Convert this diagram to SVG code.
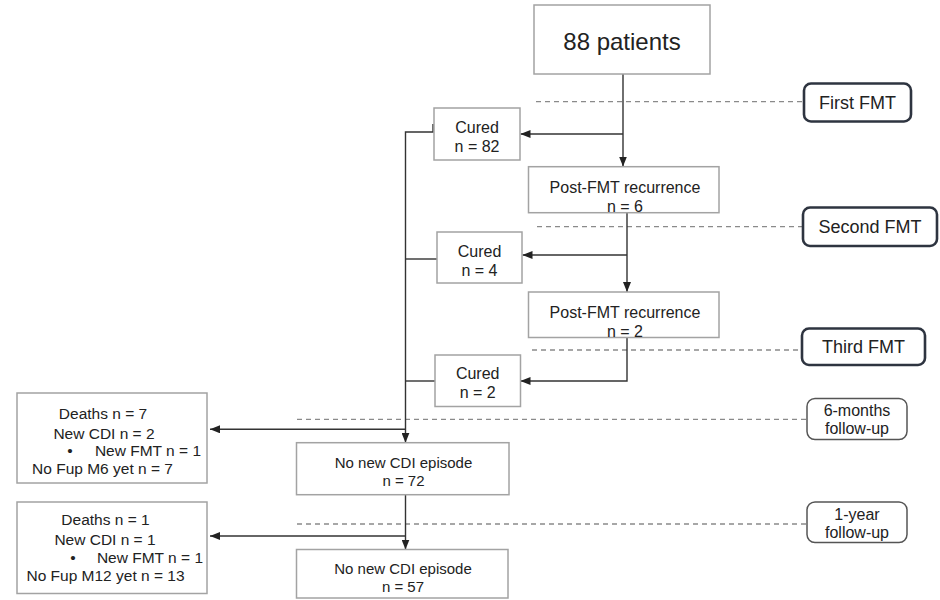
<svg xmlns="http://www.w3.org/2000/svg" width="940" height="600" viewBox="0 0 940 600">
  <style>
    text { font-family: "Liberation Sans", Arial, Helvetica, sans-serif; fill: #222; text-anchor: middle; }
    .box { fill: #fff; stroke: #a3a3a3; stroke-width: 1.5; }
    .phase { fill: #fff; stroke: #2e3440; stroke-width: 2.6; }
    .fup { fill: #fff; stroke: #555; stroke-width: 1.5; }
    .t16 { font-size: 16px; }
    .t15 { font-size: 15.5px; }
    .t14 { font-size: 15px; }
    .t18 { font-size: 18px; }
    .wire { fill: none; stroke: #333; stroke-width: 1.4; }
    .arrow { marker-end: url(#head); }
    .dash { fill: none; stroke: #8a8a8a; stroke-width: 1.3; stroke-dasharray: 5 4; }
  </style>
  <defs>
    <marker id="head" markerUnits="userSpaceOnUse" markerWidth="10" markerHeight="8" viewBox="0 0 10 8" refX="10" refY="4" orient="auto">
      <path d="M0,0 L10,4 L0,8 z" fill="#222"/>
    </marker>
  </defs>

  <rect width="940" height="600" fill="#fff"/>

  <!-- phase separators -->
  <g id="separators">
    <path class="dash" d="M536,101.7 H803"/>
    <path class="dash" d="M537,226.7 H803"/>
    <path class="dash" d="M532,350 H802"/>
    <path class="dash" d="M297,419.3 H807"/>
    <path class="dash" d="M297,524 H807"/>
  </g>

  <!-- flow connectors -->
  <g id="connectors">
    <path class="wire arrow" d="M623,74 V166.5"/>
    <path class="wire arrow" d="M623,134 H520.5"/>
    <path class="wire arrow" d="M627,213 V292"/>
    <path class="wire arrow" d="M627,255 H522.5"/>
    <path class="wire arrow" d="M627,337.5 V381 H520.5"/>
    <path class="wire arrow" d="M433,124 V132 H405.5 V442.7"/>
    <path class="wire" d="M437,259 H405.5"/>
    <path class="wire" d="M435,381 H405.5"/>
    <path class="wire arrow" d="M405.5,429.3 H210"/>
    <path class="wire arrow" d="M405.5,494.5 V549.5"/>
    <path class="wire arrow" d="M405.5,536 H210"/>
  </g>

  <g id="patients">
    <rect class="box" x="534" y="5" width="176" height="69"/>
    <text x="622" y="50" style="font-size:24px">88 patients</text>
  </g>

  <g id="first-fmt">
    <rect class="phase" x="804" y="83.5" width="107" height="38" rx="7"/>
    <text class="t18" x="857.5" y="109">First FMT</text>
  </g>
  <g id="second-fmt">
    <rect class="phase" x="803" y="207.5" width="134" height="38.5" rx="7"/>
    <text class="t18" x="870" y="233.2">Second FMT</text>
  </g>
  <g id="third-fmt">
    <rect class="phase" x="802" y="328.5" width="123" height="36.5" rx="7"/>
    <text class="t18" x="863.5" y="353.2">Third FMT</text>
  </g>
  <g id="fup-6m">
    <rect class="fup" x="807" y="398.5" width="100" height="41" rx="8"/>
    <text class="t16" x="857" y="416">6-months</text>
    <text class="t16" x="857" y="434">follow-up</text>
  </g>
  <g id="fup-1y">
    <rect class="fup" x="807" y="502" width="100" height="40.5" rx="8"/>
    <text class="t16" x="857" y="520">1-year</text>
    <text class="t16" x="857" y="538">follow-up</text>
  </g>

  <g id="cured-1">
    <rect class="box" x="434" y="108" width="86" height="52"/>
    <text class="t16" x="477" y="132.5">Cured</text>
    <text class="t16" x="477" y="151.5">n = 82</text>
  </g>
  <g id="recurrence-1">
    <rect class="box" x="528.5" y="166.7" width="190.5" height="46"/>
    <text class="t16" x="625" y="192.5">Post-FMT recurrence</text>
    <text class="t16" x="625" y="211.5">n = 6</text>
  </g>
  <g id="cured-2">
    <rect class="box" x="437" y="232" width="85" height="51"/>
    <text class="t16" x="479.5" y="256.5">Cured</text>
    <text class="t16" x="479.5" y="275.5">n = 4</text>
  </g>
  <g id="recurrence-2">
    <rect class="box" x="528.5" y="292" width="190.5" height="45.5"/>
    <text class="t16" x="625" y="318">Post-FMT recurrence</text>
    <text class="t16" x="625" y="336.5">n = 2</text>
  </g>
  <g id="cured-3">
    <rect class="box" x="435" y="355" width="85.5" height="51.5"/>
    <text class="t16" x="477.7" y="379">Cured</text>
    <text class="t16" x="477.7" y="397.5">n = 2</text>
  </g>

  <g id="events-6m">
    <rect class="box" x="17" y="393" width="190" height="90"/>
    <text class="t15" x="103" y="419">Deaths n = 7</text>
    <text class="t15" x="104" y="438.5">New CDI n = 2</text>
    <text class="t15" x="70" y="456">•</text>
    <text class="t15" x="201" y="456" style="text-anchor:end">New FMT n = 1</text>
    <text class="t15" x="102.5" y="474">No Fup M6 yet n = 7</text>
  </g>
  <g id="no-cdi-6m">
    <rect class="box" x="296.5" y="442.7" width="212.5" height="52"/>
    <text class="t14" x="403.5" y="468">No new CDI episode</text>
    <text class="t14" x="403.5" y="485.5">n = 72</text>
  </g>

  <g id="events-1y">
    <rect class="box" x="17" y="502" width="190" height="91.5"/>
    <text class="t15" x="105.5" y="525">Deaths n = 1</text>
    <text class="t15" x="105" y="544.5">New CDI n = 1</text>
    <text class="t15" x="73" y="563">•</text>
    <text class="t15" x="203" y="563" style="text-anchor:end">New FMT n = 1</text>
    <text class="t15" x="105.5" y="581">No Fup M12 yet n = 13</text>
  </g>
  <g id="no-cdi-1y">
    <rect class="box" x="296.5" y="549.5" width="211.5" height="48.5"/>
    <text class="t14" x="403" y="574">No new CDI episode</text>
    <text class="t14" x="403" y="592">n = 57</text>
  </g>
</svg>
